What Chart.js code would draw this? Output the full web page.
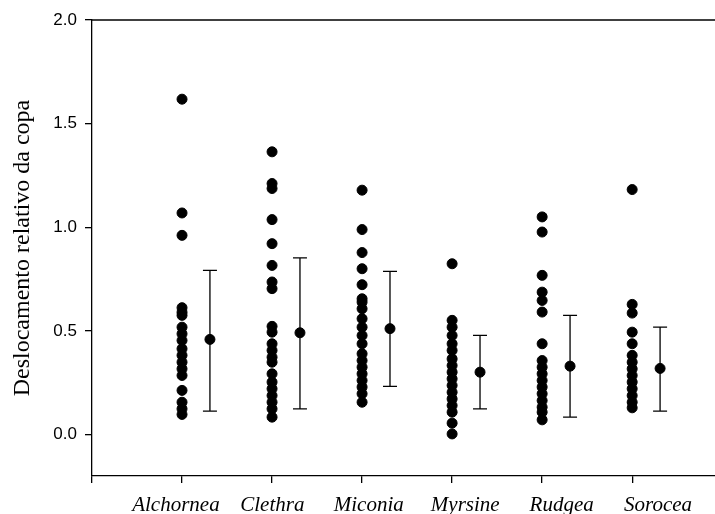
<!DOCTYPE html>
<html>
<head>
<meta charset="utf-8">
<script src="https://cdn.jsdelivr.net/npm/chart.js@4.4.0/dist/chart.umd.min.js"></script>
<style>
  body { margin: 0; background: #fff; }
  #wrap { width: 715px; height: 514px; }
</style>
</head>
<body>
<div id="wrap"><canvas id="chart" width="715" height="514"></canvas></div>
<script>
const species = ["Alchornea", "Clethra", "Miconia", "Myrsine", "Rudgea", "Sorocea"];

// individual values per genus
const alchornea = [1.618, 1.069, 0.961, 0.612, 0.590, 0.575, 0.518, 0.486, 0.454, 0.414, 0.382, 0.349, 0.317, 0.285, 0.213, 0.156, 0.124, 0.097];
const clethra = [1.364, 1.211, 1.187, 1.037, 0.921, 0.816, 0.736, 0.704, 0.522, 0.494, 0.438, 0.406, 0.373, 0.349, 0.293, 0.253, 0.221, 0.188, 0.156, 0.124, 0.084];
const miconia = [1.179, 0.989, 0.878, 0.800, 0.723, 0.655, 0.639, 0.607, 0.559, 0.518, 0.478, 0.438, 0.390, 0.357, 0.325, 0.293, 0.261, 0.229, 0.197, 0.156];
const myrsine = [0.824, 0.551, 0.518, 0.478, 0.438, 0.406, 0.365, 0.333, 0.301, 0.269, 0.237, 0.204, 0.172, 0.140, 0.108, 0.055, 0.003];
const rudgea = [1.050, 0.977, 0.768, 0.687, 0.647, 0.591, 0.438, 0.357, 0.325, 0.293, 0.261, 0.229, 0.197, 0.164, 0.132, 0.108, 0.071];
const sorocea = [1.182, 0.628, 0.586, 0.494, 0.438, 0.382, 0.349, 0.317, 0.285, 0.253, 0.221, 0.188, 0.156, 0.129];

// mean and bar ends
const means = [0.459, 0.491, 0.511, 0.301, 0.330, 0.319];
const lowers = [0.113, 0.124, 0.232, 0.124, 0.084, 0.113];
const uppers = [0.792, 0.852, 0.787, 0.478, 0.575, 0.518];

const yTicks = [0, 0.5, 1.0, 1.5, 2.0];
const yTitle = "Deslocamento relativo da copa";

const meanShift = 0.31;
const groups = [alchornea, clethra, miconia, myrsine, rudgea, sorocea];
const points = groups.flatMap((vals, i) => vals.map(v => ({ x: i + 1, y: v })));
const meanPoints = means.map((m, i) => ({ x: i + 1 + meanShift, y: m }));

const errorBars = {
  id: "errorBars",
  beforeDatasetsDraw(chart) {
    const ctx = chart.ctx;
    const xs = chart.scales.x, ys = chart.scales.y;
    ctx.save();
    ctx.strokeStyle = "#000";
    ctx.lineWidth = 1.3;
    means.forEach((m, i) => {
      const px = xs.getPixelForValue(i + 1 + meanShift);
      const top = ys.getPixelForValue(uppers[i]);
      const bot = ys.getPixelForValue(lowers[i]);
      ctx.beginPath();
      ctx.moveTo(px, top); ctx.lineTo(px, bot);
      ctx.moveTo(px - 7, top); ctx.lineTo(px + 7, top);
      ctx.moveTo(px - 7, bot); ctx.lineTo(px + 7, bot);
      ctx.stroke();
    });
    ctx.restore();
  }
};

const frame = {
  id: "frame",
  afterDraw(chart) {
    const ctx = chart.ctx;
    const a = chart.chartArea;
    ctx.save();
    ctx.strokeStyle = "#000";
    ctx.lineWidth = 1.3;
    ctx.beginPath();
    ctx.moveTo(a.left, a.top);
    ctx.lineTo(a.right, a.top);
    ctx.stroke();
    // y title
    ctx.fillStyle = "#000";
    ctx.font = '24px "Liberation Serif"';
    ctx.textAlign = "center";
    ctx.textBaseline = "middle";
    ctx.translate(23, (a.top + a.bottom) / 2);
    ctx.rotate(-Math.PI / 2);
    ctx.fillText(yTitle, 0, 0);
    ctx.restore();
  }
};

new Chart(document.getElementById("chart"), {
  type: "scatter",
  data: {
    datasets: [
      { data: points, backgroundColor: "#000", borderColor: "#000", pointRadius: 5, borderWidth: 1 },
      { data: meanPoints, backgroundColor: "#000", borderColor: "#000", pointRadius: 5, borderWidth: 1 }
    ]
  },
  options: {
    responsive: false,
    animation: false,
    layout: { autoPadding: false, padding: { top: 20, right: 0, left: 0, bottom: 0 } },
    plugins: { legend: { display: false }, tooltip: { enabled: false } },
    scales: {
      x: {
        type: "linear",
        min: 0,
        max: 6.92,
        afterBuildTicks: s => { s.ticks = [0, 1, 2, 3, 4, 5, 6].map(v => ({ value: v })); },
        ticks: { display: false },
        grid: { drawOnChartArea: false, tickLength: 7, color: "#000", lineWidth: 1.3 },
        border: { color: "#000", width: 1.3 },
        afterFit: s => { s.height = 7; }
      },
      xLabels: {
        type: "linear",
        position: "bottom",
        min: 0.13,
        max: 6.59,
        afterBuildTicks: s => { s.ticks = [1, 2, 3, 4, 5, 6].map(v => ({ value: v })); },
        ticks: {
          callback: v => species[v - 1],
          font: { family: '"Liberation Serif"', style: "italic", size: 21 },
          color: "#000",
          padding: 2,
          maxRotation: 0,
          autoSkip: false
        },
        grid: { display: false },
        border: { display: false },
        afterFit: s => { s.height = 31; }
      },
      y: {
        min: -0.2,
        max: 2.0,
        afterBuildTicks: s => { s.ticks = yTicks.map(v => ({ value: v })); },
        ticks: {
          callback: v => v.toFixed(1),
          font: { family: '"Liberation Sans"', size: 17 },
          color: "#000",
          padding: 8
        },
        grid: { drawOnChartArea: false, tickLength: 7, color: "#000", lineWidth: 1.3 },
        border: { color: "#000", width: 1.3 },
        afterFit: s => { s.width = 92; }
      }
    }
  },
  plugins: [errorBars, frame]
});
</script>
</body>
</html>
